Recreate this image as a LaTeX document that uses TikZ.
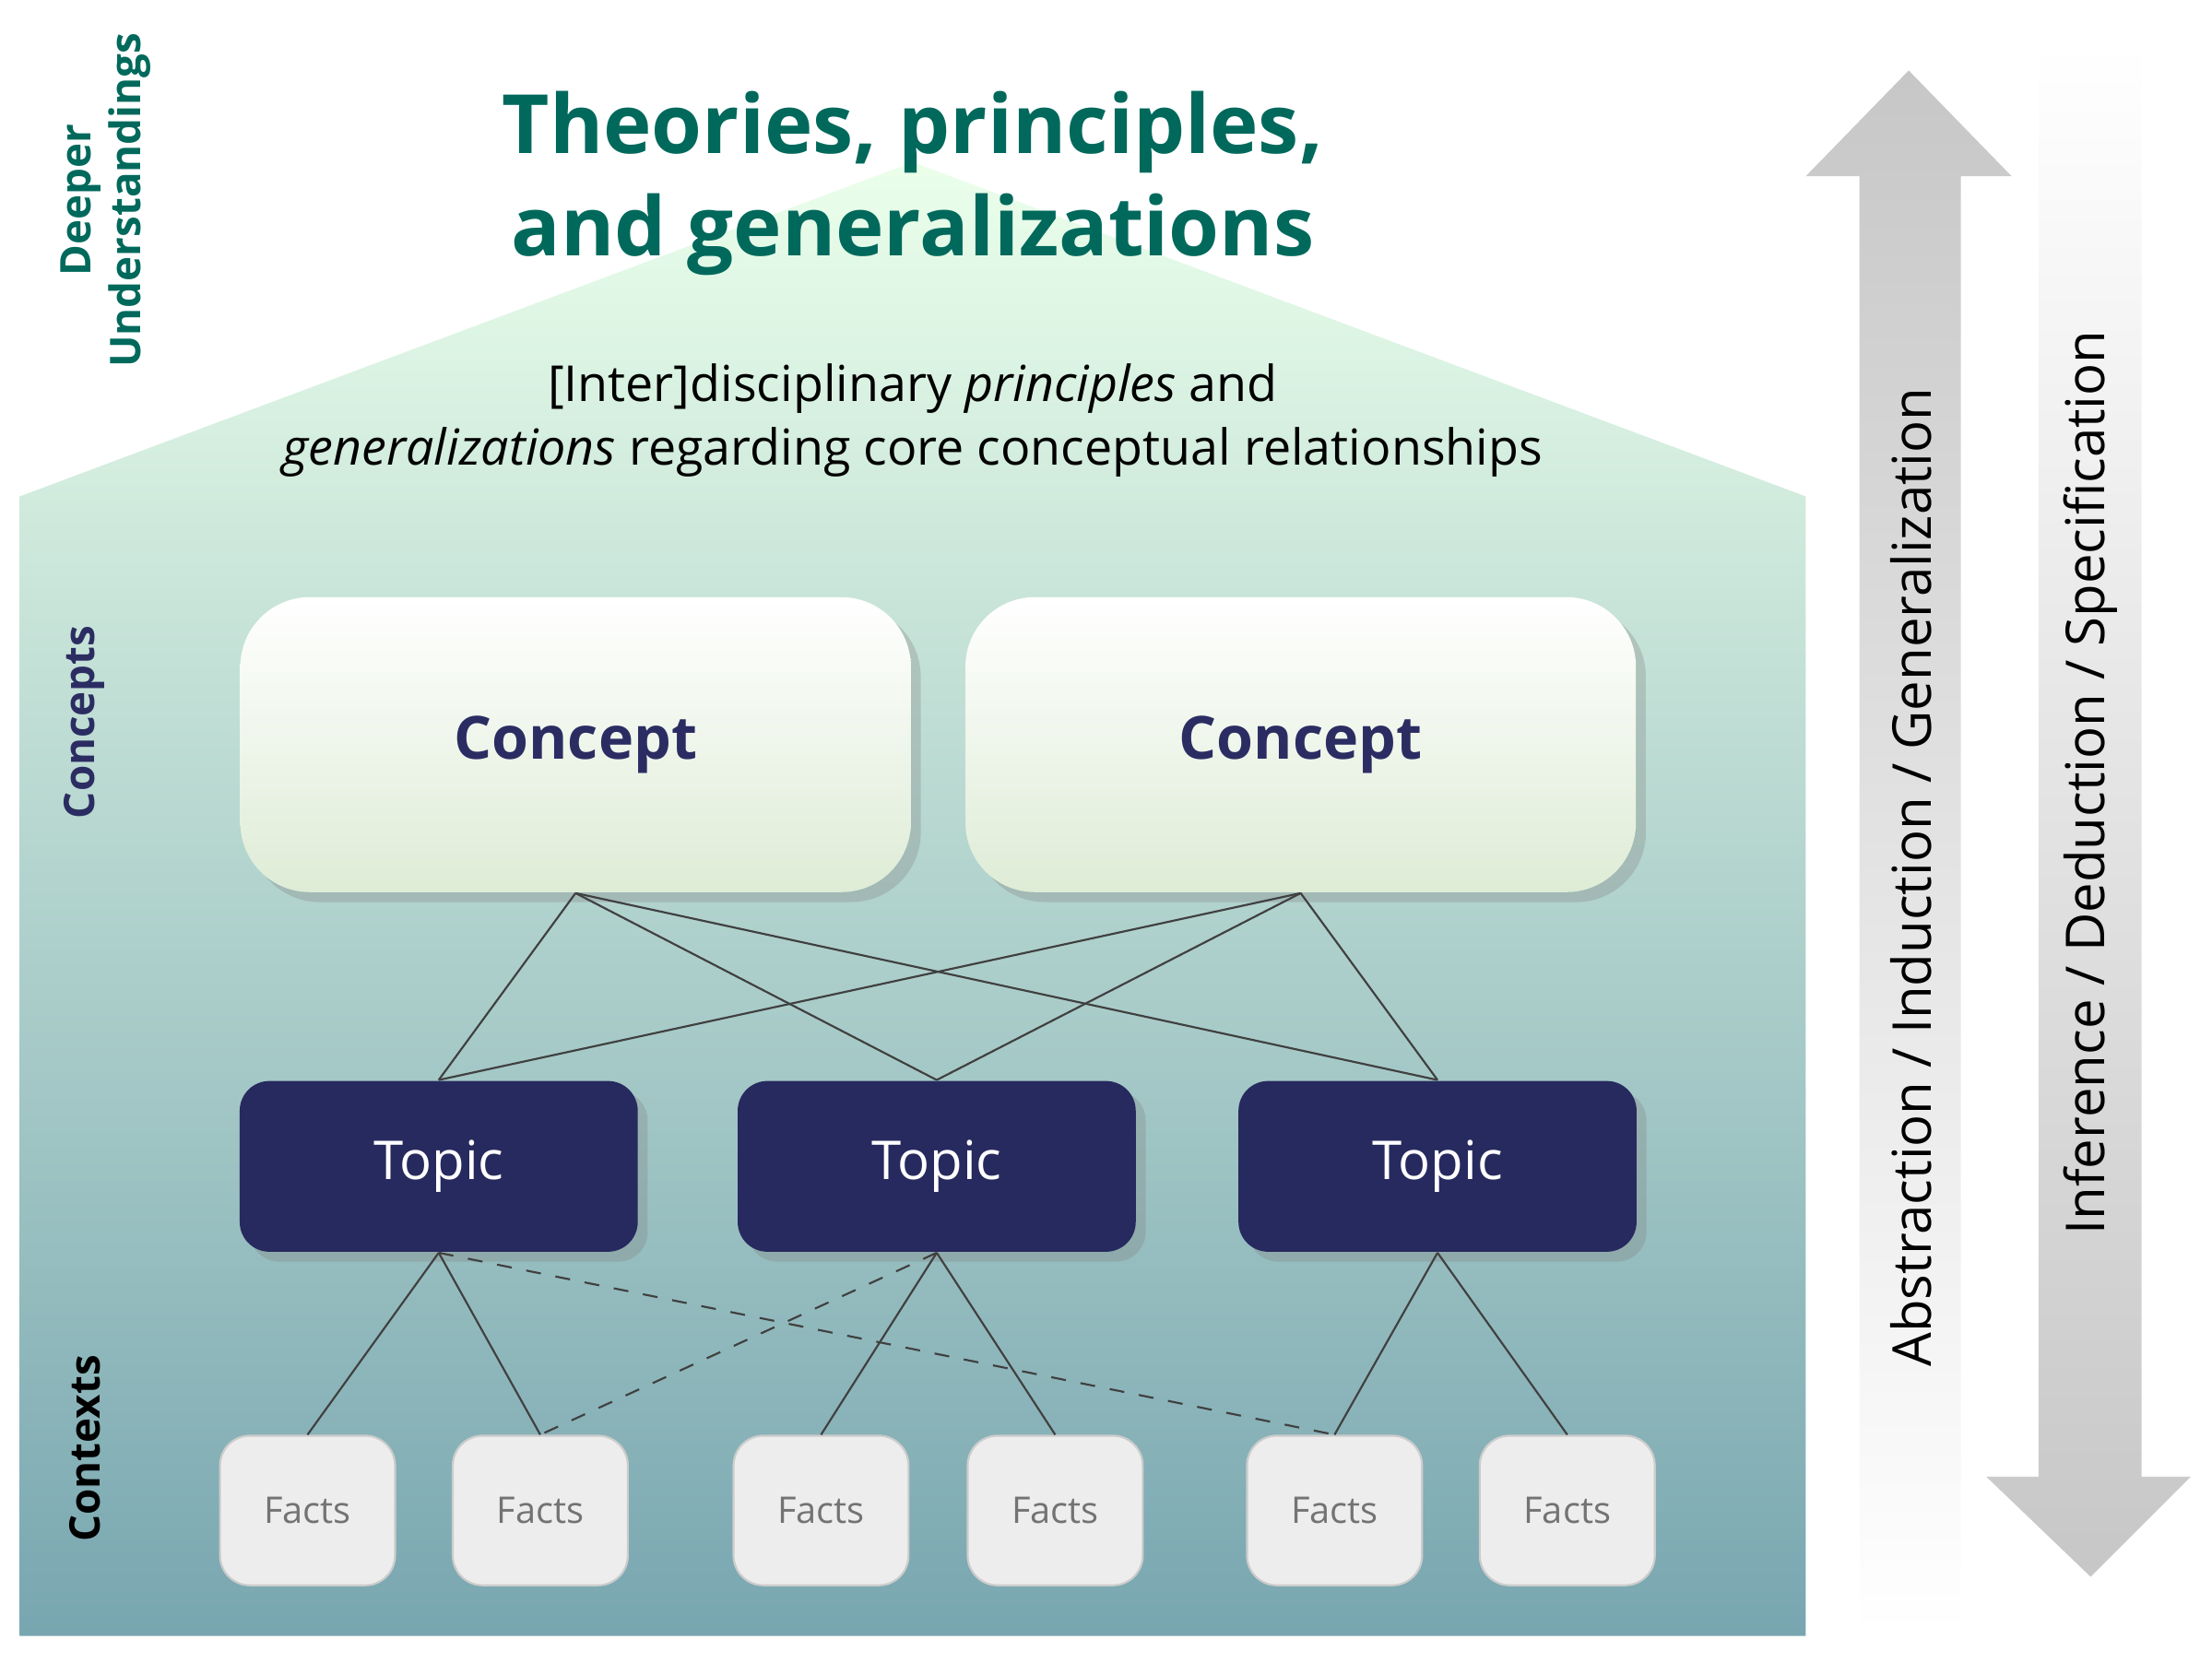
\documentclass[tikz,border=0pt]{standalone}
\usepackage{fontspec}
\setmainfont{Open Sans}
\usetikzlibrary{shadows}
\definecolor{teal1}{HTML}{00695C}
\definecolor{navy}{HTML}{272A5E}
\definecolor{navyt}{HTML}{2B2D62}
\begin{document}
\begin{tikzpicture}[x=0.01cm,y=0.01cm,
  concept/.style={draw=none,rounded corners=14pt,minimum width=4.75cm,minimum height=2.09cm,top color=white,bottom color={rgb,255:red,222;green,236;blue,214},drop shadow={opacity=0.3,shadow xshift=2pt,shadow yshift=-2pt},text=navyt,font=\fontsize{12}{14}\selectfont\bfseries},
  topic/.style={rounded corners=6pt,fill=navy,minimum width=2.82cm,minimum height=1.21cm,text=white,font=\fontsize{10.8}{13}\selectfont,drop shadow={opacity=0.3,shadow xshift=2pt,shadow yshift=-2pt}},
  facts/.style={rounded corners=6pt,fill=black!7,draw=black!20,minimum width=1.24cm,minimum height=1.06cm,text=black!55,font=\fontsize{7.4}{9}\selectfont},
  link/.style={draw=black!75,line width=0.4pt},
  side/.style={rotate=90,align=center,font=\fontsize{8.5}{10}\selectfont\bfseries}]
\useasboundingbox (0,0) rectangle (1568,1179);
% house
\shade[top color=green!8!white,middle color={rgb,255:red,162;green,201;blue,156},bottom color={rgb,255:red,120;green,166;blue,176}]
  (647,1064) -- (1280,827) -- (1280,19) -- (14,19) -- (14,827) -- cycle;
% arrows
\shade[top color=black!22,bottom color=white] (1353,1129) -- (1426,1054) -- (1390,1054) -- (1390,19) -- (1318,19) -- (1318,1054) -- (1280,1054) -- cycle;
\shade[top color=white,bottom color=black!22] (1445,1149) -- (1518,1149) -- (1518,132) -- (1553,132) -- (1482,61) -- (1408,132) -- (1445,132) -- cycle;
\node[rotate=90,font=\fontsize{10.8}{13}\selectfont] (ta) at (1355,557) {Abstraction / Induction / Generalization};
\node[rotate=90,font=\fontsize{10.8}{13}\selectfont] (tb) at (1482,624) {Inference / Deduction / Specification};
% titles
\node[align=center,text=teal1,font=\fontsize{16.5}{20.5}\selectfont\bfseries] (title) at (647,1049) {Theories, principles,\\and generalizations};
\node[align=center,font=\fontsize{10}{12.8}\selectfont] (sub) at (647,881) {[Inter]disciplinary \textit{principles} and\\\textit{generalizations} regarding core conceptual relationships};
\node[side,text=teal1] (l1) at (75,1037) {Deeper\\Understandings};
\node[side,text=navyt] (l2) at (60,667) {Concepts};
\node[side,text=black] (l3) at (60,152) {Contexts};
% concepts
\node[concept] (c1) at (408,651) {Concept};
\node[concept] (c2) at (922,651) {Concept};
% topics
\node[topic] (t1) at (311,352) {Topic};
\node[topic] (t2) at (664,352) {Topic};
\node[topic] (t3) at (1019,352) {Topic};
% facts
\foreach \n/\x in {f1/218,f2/383,f3/582,f4/748,f5/946,f6/1111}
  \node[facts] (\n) at (\x,108) {Facts};
% links
\foreach \c in {c1,c2}\foreach \t in {t1,t2,t3}\draw[link] (\c.south) -- (\t.north);
\draw[link] (t1.south) -- (f1.north); \draw[link] (t1.south) -- (f2.north);
\draw[link] (t2.south) -- (f3.north); \draw[link] (t2.south) -- (f4.north);
\draw[link] (t3.south) -- (f5.north); \draw[link] (t3.south) -- (f6.north);
\draw[link,dashed] (t1.south) -- (f5.north);
\draw[link,dashed] (t2.south) -- (f2.north);
\end{tikzpicture}
\end{document}
